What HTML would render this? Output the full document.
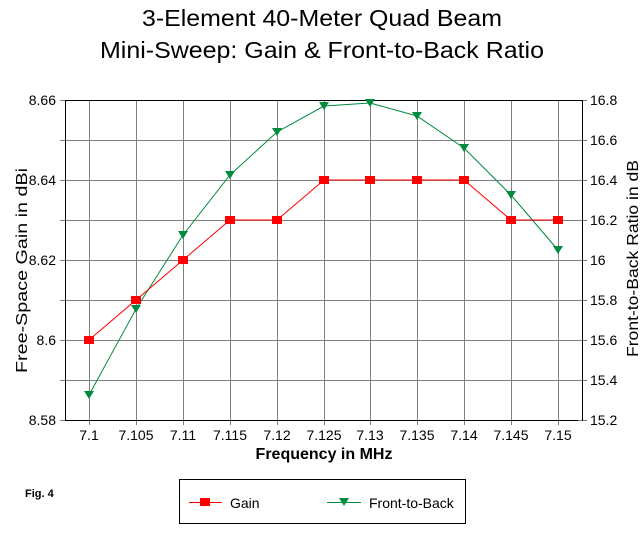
<!DOCTYPE html>
<html><head><style>body{margin:0;background:#fff}</style></head><body>
<svg width="644" height="529" xmlns="http://www.w3.org/2000/svg" font-family="Liberation Sans, sans-serif">
<rect width="644" height="529" fill="#fff"/>
<text x="142" y="26" font-size="23.5" textLength="360" lengthAdjust="spacingAndGlyphs">3-Element 40-Meter Quad Beam</text>
<text x="100" y="58" font-size="23.5" textLength="444" lengthAdjust="spacingAndGlyphs">Mini-Sweep: Gain &amp; Front-to-Back Ratio</text>
<g stroke="#808080" stroke-width="1">
<line x1="60" y1="100.5" x2="587" y2="100.5"/><line x1="60" y1="140.5" x2="587" y2="140.5"/>
<line x1="60" y1="180.5" x2="587" y2="180.5"/><line x1="60" y1="220.5" x2="587" y2="220.5"/>
<line x1="60" y1="260.5" x2="587" y2="260.5"/><line x1="60" y1="300.5" x2="587" y2="300.5"/>
<line x1="60" y1="340.5" x2="587" y2="340.5"/><line x1="60" y1="380.5" x2="587" y2="380.5"/>
<line x1="60" y1="420.5" x2="587" y2="420.5"/>
<line x1="89.5" y1="100" x2="89.5" y2="425"/><line x1="136.5" y1="100" x2="136.5" y2="425"/>
<line x1="183.5" y1="100" x2="183.5" y2="425"/><line x1="230.5" y1="100" x2="230.5" y2="425"/>
<line x1="277.5" y1="100" x2="277.5" y2="425"/><line x1="324.5" y1="100" x2="324.5" y2="425"/>
<line x1="370.5" y1="100" x2="370.5" y2="425"/><line x1="417.5" y1="100" x2="417.5" y2="425"/>
<line x1="464.5" y1="100" x2="464.5" y2="425"/><line x1="511.5" y1="100" x2="511.5" y2="425"/>
<line x1="558.5" y1="100" x2="558.5" y2="425"/>
</g>
<g stroke="#000" stroke-width="1">
<line x1="65.5" y1="100" x2="65.5" y2="421"/><line x1="582.5" y1="100" x2="582.5" y2="421"/>
<line x1="65" y1="100.5" x2="583" y2="100.5"/><line x1="65" y1="420.5" x2="578" y2="420.5"/>
</g>
<g font-size="14" text-anchor="end">
<text x="56" y="105">8.66</text><text x="56" y="185">8.64</text><text x="56" y="265">8.62</text>
<text x="56" y="345">8.6</text><text x="56" y="425">8.58</text>
</g>
<g font-size="14">
<text x="590" y="105">16.8</text><text x="590" y="145">16.6</text><text x="590" y="185">16.4</text>
<text x="590" y="225">16.2</text><text x="590" y="265">16</text><text x="590" y="305">15.8</text>
<text x="590" y="345">15.6</text><text x="590" y="385">15.4</text><text x="590" y="425">15.2</text>
</g>
<g font-size="14" text-anchor="middle">
<text x="89" y="440">7.1</text><text x="136" y="440">7.105</text><text x="183" y="440">7.11</text>
<text x="230" y="440">7.115</text><text x="277" y="440">7.12</text><text x="324" y="440">7.125</text>
<text x="370" y="440">7.13</text><text x="417" y="440">7.135</text><text x="464" y="440">7.14</text>
<text x="511" y="440">7.145</text><text x="558" y="440">7.15</text>
</g>
<text x="324" y="459" font-size="16" font-weight="bold" text-anchor="middle">Frequency in MHz</text>
<text transform="translate(27,373) rotate(-90)" font-size="16" textLength="205" lengthAdjust="spacingAndGlyphs">Free-Space Gain in dBi</text>
<text transform="translate(638,357) rotate(-90)" font-size="16" textLength="197" lengthAdjust="spacingAndGlyphs">Front-to-Back Ratio in dB</text>
<polyline fill="none" stroke="#008c3c" stroke-width="1" points="89,395 136,309 183,235 230,175 277,132 324,106 370,103 417,116 464,148 511,195 558,250"/>
<g fill="#008c3c">
<path d="M84,391h10l-5,8z"/><path d="M131,305h10l-5,8z"/><path d="M178,231h10l-5,8z"/><path d="M225,171h10l-5,8z"/><path d="M272,128h10l-5,8z"/><path d="M319,102h10l-5,8z"/><path d="M365,99h10l-5,8z"/><path d="M412,112h10l-5,8z"/><path d="M459,144h10l-5,8z"/><path d="M506,191h10l-5,8z"/><path d="M553,246h10l-5,8z"/>
</g>
<polyline fill="none" stroke="#ff0000" stroke-width="1" points="89,340 136,300 183,260 230,220 277,220 324,180 370,180 417,180 464,180 511,220 558,220"/>
<g fill="#ff0000">
<rect x="84" y="336" width="10" height="8"/><rect x="131" y="296" width="10" height="8"/><rect x="178" y="256" width="10" height="8"/><rect x="225" y="216" width="10" height="8"/><rect x="272" y="216" width="10" height="8"/><rect x="319" y="176" width="10" height="8"/><rect x="365" y="176" width="10" height="8"/><rect x="412" y="176" width="10" height="8"/><rect x="459" y="176" width="10" height="8"/><rect x="506" y="216" width="10" height="8"/><rect x="553" y="216" width="10" height="8"/>
</g>
<text x="25" y="497" font-size="11" font-weight="bold">Fig. 4</text>
<rect x="179.5" y="479.5" width="286" height="44" fill="none" stroke="#000"/>
<line x1="189" y1="502.5" x2="222" y2="502.5" stroke="#ff0000"/>
<rect x="200" y="498" width="10" height="8" fill="#ff0000"/>
<text x="230" y="508" font-size="14">Gain</text>
<line x1="327" y1="502.5" x2="361" y2="502.5" stroke="#008c3c"/>
<path d="M339,498h10l-5,8z" fill="#008c3c"/>
<text x="369" y="508" font-size="14">Front-to-Back</text>
</svg>
</body></html>
